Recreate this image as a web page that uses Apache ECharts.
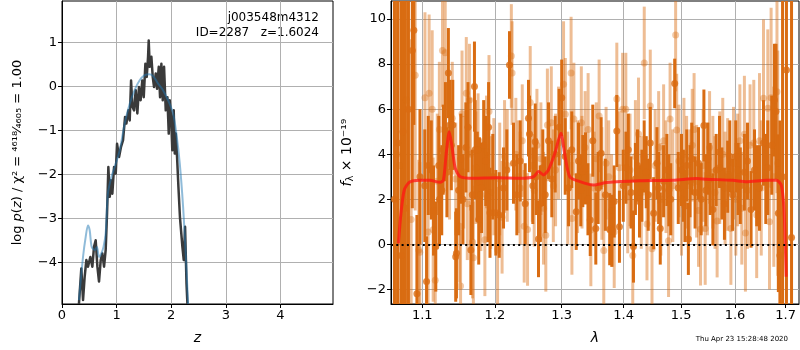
<!DOCTYPE html>
<html><head><meta charset="utf-8">
<script src="https://cdn.jsdelivr.net/npm/echarts@6/dist/echarts.min.js"></script>
<style>html,body{margin:0;padding:0;background:#fff}#c{width:800px;height:350px}</style>
</head><body><div id="c"></div>
<script>
// ---- p(z) panel ----
const pzDarkZ = [0.31,0.354,0.385,0.415,0.446,0.476,0.519,0.556,0.586,0.617,0.648,0.678,0.709,0.739,0.77,0.8,0.825,0.849,0.874,0.898,0.922,0.953,0.984,1.008,1.045,1.081,1.118,1.155,1.179,1.216,1.24,1.265,1.289,1.32,1.35,1.38,1.41,1.44,1.47,1.497,1.527,1.552,1.576,1.588,1.607,1.637,1.662,1.686,1.717,1.741,1.772,1.796,1.82,1.845,1.869,1.9,1.93,1.955,1.973,1.998,2.02,2.046,2.065,2.083,2.107,2.132,2.16,2.205,2.23,2.254,2.28,2.297];
const pzDarkLog = [-4.95,-4.14,-4.86,-4.33,-3.95,-4.1,-3.88,-4.1,-3.65,-3.5,-4.1,-4.44,-3.95,-3.8,-4.1,-3.72,-2.89,-1.83,-2.51,-2.13,-2.44,-1.83,-1.98,-1.3,-1.6,-1.37,-1.22,-0.69,-0.84,-0.54,-0.77,0.14,-0.46,-0.54,-0.08,-0.61,-0.01,-0.31,0.14,-0.24,0.52,0.22,0.68,1.05,0.45,0.68,0.22,-0.01,0.3,-0.05,0.45,-0.24,0.52,-0.31,0.45,-0.54,-0.24,-1.07,-0.31,-0.69,-1.45,-0.54,-1.52,-1.07,-1.6,-2.28,-2.97,-3.65,-3.95,-3.19,-4.48,-4.95];
const pzSmoothZ = [0.31,0.385,0.434,0.476,0.507,0.544,0.6,0.64,0.678,0.72,0.76,0.8,0.84,0.904,0.965,1.057,1.148,1.24,1.33,1.42,1.515,1.594,1.668,1.76,1.85,1.943,2.034,2.095,2.157,2.218,2.266,2.309];
const pzSmoothLog = [-4.86,-3.88,-3.42,-3.16,-3.27,-3.65,-3.72,-3.65,-3.88,-3.8,-3.65,-3.34,-2.44,-2.06,-1.83,-1.45,-0.84,-0.39,-0.08,0.14,0.26,0.28,0.24,0.07,-0.08,-0.31,-0.61,-1.07,-1.75,-2.74,-3.8,-4.95];
const pzTicksX = [0,1,2,3,4];
const pzTicksY = [-4,-3,-2,-1,0,1];

// ---- spectrum panel (wavelength in microns, flux in 1e-19) ----
const darkWave = [1.064,1.068,1.0727,1.075,1.078,1.082,1.087,1.089,1.093,1.097,1.1034,1.1057,1.108,1.112,1.115,1.118,1.122,1.123,1.126,1.128,1.131,1.133,1.135,1.137,1.139,1.141,1.145,1.146,1.149,1.152,1.155,1.159,1.162,1.166,1.168,1.171,1.172,1.175,1.177,1.178,1.181,1.184,1.187,1.19,1.191,1.193,1.197,1.2014,1.2063,1.2125,1.2173,1.2212,1.2271,1.232,1.237,1.2444,1.2493,1.2508,1.2558,1.2594,1.2609,1.2644,1.267,1.2709,1.2746,1.2796,1.2847,1.2899,1.2961,1.3,1.3055,1.3107,1.3158,1.3228,1.3264,1.33,1.3333,1.3376,1.3415,1.3452,1.3493,1.3542,1.358,1.3629,1.3698,1.3769,1.3807,1.3844,1.3887,1.3931,1.3995,1.404,1.408,1.4125,1.4167,1.42,1.4236,1.427,1.4311,1.435,1.4385,1.442,1.4455,1.4514,1.4571,1.46,1.4629,1.4687,1.4745,1.478,1.4814,1.4884,1.4948,1.5006,1.504,1.5067,1.51,1.513,1.516,1.5191,1.5252,1.5315,1.5364,1.5414,1.545,1.5488,1.553,1.5581,1.5642,1.5705,1.575,1.5798,1.5859,1.59,1.5952,1.6014,1.606,1.6101,1.618,1.624,1.631,1.6377,1.642,1.6476,1.6555,1.66,1.664,1.6719,1.6773,1.6804,1.6852,1.6883,1.6937,1.7016,1.712];
const darkFlux = [2.0,4.5,-0.5,5.0,1.6,6.0,8.6,9.5,-2.2,3.0,2.6,-1.65,3.5,3.3,1.5,-0.1,3.5,2.0,2.4,4.2,5.0,3.2,7.6,5.3,4.4,5.3,-0.55,-0.4,2.4,3.8,2.0,4.3,5.2,-0.25,2.2,7.0,4.2,3.0,1.1,2.75,2.5,4.4,3.7,2.1,5.2,1.4,3.0,1.4,1.3,2.5,3.3,7.96,3.6,2.2,3.7,1.8,5.6,4.9,2.6,4.55,3.0,0.24,1.8,3.4,2.2,4.6,2.9,4.0,5.2,6.5,3.9,2.5,4.2,1.45,3.7,2.4,3.25,3.37,2.0,1.08,4.6,0.7,2.5,4.04,2.2,0.67,0.6,1.9,5.03,0.78,2.6,3.4,4.2,2.3,-0.1,2.9,3.5,1.9,2.6,3.9,3.2,2.2,4.5,1.38,3.6,2.5,0.7,2.8,3.3,2.4,2.0,7.14,2.5,3.3,2.6,1.7,3.5,0.24,2.8,3.8,2.3,3.6,2.0,5.27,2.4,3.8,2.9,1.55,3.3,4.1,2.7,1.8,3.0,3.9,2.2,3.9,2.9,2.6,3.2,3.7,1.55,3.3,2.6,2.5,4.5,2.9,3.4,4.4,6.4,5.9,1.38,-0.5,3.0,7.74,0.3];
const darkErr = [14,14,12,12,10,9,7,4.2,3.5,3.0,2.5,2.0,2.2,2.2,2.0,2.0,2.2,2.0,2.0,2.0,2.2,2.0,2.0,2.0,2.0,2.0,2.0,2.0,2.0,2.0,2.0,2.0,2.0,2.0,2.0,2.0,2.2,2.0,2.0,2.0,2.0,2.0,2.0,2.0,2.0,2.0,1.9,1.9,1.9,1.8,1.8,1.5,1.8,1.8,1.8,1.8,1.7,1.7,1.7,1.7,1.7,1.7,1.7,1.7,1.7,1.7,1.7,1.7,1.7,1.7,1.7,1.7,1.7,1.7,1.7,1.6,1.6,1.6,1.6,1.6,1.6,1.6,1.6,1.6,1.6,1.6,1.6,1.6,1.6,1.6,1.6,1.6,1.6,1.6,1.6,1.6,1.6,1.6,1.6,1.6,1.6,1.6,1.6,1.6,1.6,1.6,1.6,1.6,1.6,1.6,1.6,1.1,1.6,1.6,1.6,1.6,1.6,1.6,1.6,1.6,1.6,1.6,1.6,1.6,1.6,1.6,1.6,1.6,1.6,1.6,1.6,1.6,1.6,1.6,1.6,1.6,1.6,1.7,1.7,1.7,1.7,1.8,1.8,1.9,1.9,2.0,2.1,2.2,2.5,3.0,3.5,6,8,14,14,14];

const lightWave = [1.067,1.0704,1.0793,1.0855,1.0908,1.0955,1.0968,1.1036,1.1077,1.1091,1.1132,1.1145,1.1173,1.12,1.1228,1.127,1.1307,1.1366,1.1403,1.145,1.1504,1.1517,1.1537,1.156,1.1596,1.161,1.1641,1.1655,1.1683,1.1695,1.173,1.1761,1.18,1.1857,1.188,1.1916,1.194,1.1985,1.2039,1.207,1.2104,1.214,1.2179,1.2239,1.225,1.2305,1.234,1.2369,1.24,1.2429,1.2479,1.2519,1.255,1.2579,1.262,1.268,1.272,1.2755,1.2779,1.2839,1.287,1.2905,1.295,1.3029,1.3057,1.3094,1.3147,1.316,1.3191,1.325,1.3309,1.332,1.337,1.3418,1.3462,1.3515,1.355,1.3596,1.364,1.3672,1.371,1.3753,1.38,1.3844,1.3887,1.393,1.3984,1.4038,1.407,1.4108,1.4155,1.42,1.4253,1.43,1.4351,1.4398,1.4455,1.4485,1.454,1.4601,1.464,1.4688,1.473,1.4775,1.4802,1.485,1.4901,1.492,1.496,1.5006,1.505,1.5098,1.516,1.52,1.5234,1.528,1.5315,1.5352,1.54,1.5438,1.548,1.5519,1.558,1.562,1.566,1.571,1.5766,1.581,1.5859,1.592,1.597,1.6014,1.605,1.6093,1.613,1.618,1.62,1.624,1.629,1.6363,1.642,1.6476,1.651,1.6555,1.664,1.6674,1.6706,1.676,1.6824,1.684];
const lightFlux = [4.0,3.5,6.4,1.1,7.5,-0.25,-0.35,6.5,0.55,6.7,6.0,0.65,-1.6,2.8,5.1,8.6,8.5,3.6,5.6,2.9,0.8,-1.85,5.8,3.2,6.7,1.8,6.4,4.0,0.1,-0.6,3.4,4.2,2.2,0.2,4.1,5.9,2.3,3.0,-0.25,2.9,1.2,3.9,3.5,8.36,7.6,4.0,3.0,2.5,4.6,0.8,0.66,6.3,3.5,2.4,4.4,3.8,1.6,0.4,5.3,5.4,2.6,3.3,4.5,7.1,5.77,2.5,7.6,1.15,5.56,3.0,5.4,3.2,4.3,5.1,0.64,2.5,3.8,5.7,2.7,-0.28,3.6,3.0,1.5,0.56,6.45,3.4,6.0,6.0,2.1,3.3,-0.5,3.9,4.9,2.3,8.05,0.9,6.14,-0.2,3.5,4.3,2.0,4.6,3.0,0.16,5.56,2.6,9.29,5.07,3.7,2.0,4.0,3.2,2.6,4.4,5.1,2.8,1.5,0.67,3.5,0.7,2.9,4.3,3.2,2.3,1.03,3.4,4.0,2.5,3.1,0.7,3.6,2.0,3.3,4.6,1.6,4.88,0.5,2.4,4.4,4.5,1.3,4.6,2.5,6.48,6.04,1.0,6.5,3.0,6.77,3.6];
const lightErr = [14,12,9,8,6,4,4,3.8,3.5,3.5,3.5,3.2,3.0,3.0,3.0,2.5,2.5,2.5,2.5,2.5,2.5,2.5,2.8,2.5,2.5,2.5,2.5,2.5,2.5,2.5,2.5,2.5,2.5,2.5,2.5,2.5,2.5,2.6,2.8,2.5,2.5,2.5,2.5,2.3,2.3,2.5,2.5,2.5,2.5,2.5,2.5,2.5,2.5,2.5,2.5,2.5,2.5,2.5,2.5,2.5,2.5,2.5,2.5,2.8,2.5,2.5,2.5,2.5,2.5,2.5,2.5,2.5,2.5,2.5,2.5,2.5,2.5,2.5,2.5,2.5,2.5,2.5,2.5,2.5,2.5,2.5,2.5,2.5,2.5,2.5,2.5,2.5,2.5,2.5,2.5,2.5,2.5,2.5,2.5,2.5,2.5,2.5,2.5,2.5,2.5,2.5,2.5,2.5,2.5,2.5,2.5,2.5,2.5,2.5,2.5,2.5,2.5,2.5,2.5,2.5,2.5,2.5,2.5,2.5,2.5,2.5,2.5,2.5,2.5,2.5,2.5,2.5,2.5,2.5,2.5,2.6,2.6,2.6,2.7,2.8,2.8,3.0,3.0,3.5,3.5,3.0,4.0,4.0,4.5,5.0];

const modelWave = [1.0691,1.0723,1.0766,1.0832,1.0964,1.110,1.1238,1.1283,1.1321,1.1362,1.1399,1.1444,1.1513,1.1696,1.2019,1.2369,1.2569,1.2644,1.2719,1.2794,1.2894,1.2987,1.3045,1.3126,1.3288,1.3503,1.372,1.4276,1.4854,1.5278,1.5464,1.5957,1.622,1.6615,1.6812,1.6911,1.6963,1.699,1.701];
const modelFlux = [0.04,1.38,2.41,2.75,2.84,2.84,2.75,2.85,4.04,5.0,4.34,3.38,3.0,2.93,2.95,2.93,3.0,3.23,3.08,3.3,4.04,4.93,4.04,3.0,2.78,2.63,2.74,2.82,2.84,2.92,2.89,2.84,2.78,2.84,2.84,2.63,1.67,0.19,-1.44];

const specTicksX = [1.1,1.2,1.3,1.4,1.5,1.6,1.7];
const specTicksY = [-2,0,2,4,6,8,10];

const ORANGE = 'rgb(217,108,18)';
const ORANGE_L = 'rgba(217,108,18,0.45)';
const FONT = 'DejaVu Sans';

function errData(w, f, e) { return w.map((x, i) => [Math.log(x), f[i] - e[i], f[i] + e[i]]); }
function ptData(w, f) { return w.map((x, i) => [Math.log(x), f[i]]); }
function errRender(color) {
  return function (params, api) {
    const x = api.value(0);
    const p1 = api.coord([x, api.value(2)]);
    const p2 = api.coord([x, api.value(1)]);
    return { type: 'line', shape: { x1: p1[0], y1: p1[1], x2: p2[0], y2: p2[1] },
      style: { stroke: color, lineWidth: 3 } };
  };
}
const minus = v => String(v).replace('-', '\u2212');

const gridLine = { show: true, lineStyle: { color: '#b0b0b0', width: 1 } };
const axisLineK = { show: true, onZero: false, lineStyle: { color: '#000', width: 1 } };
const tickK = { show: true, inside: false, length: 4, lineStyle: { color: '#000' } };
const labelK = { color: '#000', fontSize: 13, fontFamily: FONT, margin: 5 };

const chart = echarts.init(document.getElementById('c'), null, { renderer: 'canvas' });
chart.setOption({
  animation: false,
  backgroundColor: '#fff',
  grid: [
    { left: 62, top: 1, width: 271, height: 303, show: true, borderColor: '#000', borderWidth: 1, backgroundColor: 'transparent' },
    { left: 391, top: 1, width: 408, height: 303, show: true, borderColor: '#000', borderWidth: 1, backgroundColor: 'transparent' }
  ],
  xAxis: [
    { gridIndex: 0, type: 'value', min: 0, max: 4.963,
      axisLine: axisLineK, axisTick: Object.assign({}, tickK, { customValues: pzTicksX }),
      axisLabel: Object.assign({}, labelK, { customValues: pzTicksX }),
      splitLine: gridLine,
      name: 'z', nameLocation: 'middle', nameGap: 27,
      nameTextStyle: { fontSize: 14, fontStyle: 'italic', fontFamily: FONT, color: '#000' } },
    { gridIndex: 1, type: 'value', min: 0.0579, max: 0.5466,
      axisLine: axisLineK,
      axisTick: Object.assign({}, tickK, { customValues: specTicksX.map(Math.log) }),
      axisLabel: Object.assign({}, labelK, { customValues: specTicksX.map(Math.log),
        formatter: v => Math.exp(v).toFixed(1) }),
      splitLine: gridLine,
      name: 'λ', nameLocation: 'middle', nameGap: 27,
      nameTextStyle: { fontSize: 14, fontStyle: 'italic', fontFamily: FONT, color: '#000' } }
  ],
  yAxis: [
    { gridIndex: 0, type: 'value', min: -4.95, max: 1.95,
      axisLine: axisLineK, axisTick: Object.assign({}, tickK, { customValues: pzTicksY }),
      axisLabel: Object.assign({}, labelK, { customValues: pzTicksY, formatter: minus }),
      splitLine: gridLine,
      name: 'log {i|p}({i|z}) / χ² = ⁴⁶¹⁸⁄₄₆₀₅ = 1.00', nameLocation: 'middle', nameGap: 38,
      nameTextStyle: { fontSize: 13, fontFamily: FONT, color: '#000',
        rich: { i: { fontSize: 13, fontStyle: 'italic', fontFamily: FONT, color: '#000' } } } },
    { gridIndex: 1, type: 'value', min: -2.65, max: 10.8,
      axisLine: axisLineK, axisTick: Object.assign({}, tickK, { customValues: specTicksY }),
      axisLabel: Object.assign({}, labelK, { customValues: specTicksY, formatter: minus }),
      splitLine: gridLine,
      name: '{i|f}{s|λ} × 10⁻¹⁹', nameLocation: 'middle', nameGap: 36,
      nameTextStyle: { fontSize: 14, fontFamily: FONT, color: '#000',
        rich: { i: { fontSize: 14, fontStyle: 'italic', fontFamily: FONT }, s: { fontSize: 10, fontFamily: FONT, padding: [6, 0, 0, 0] } } } }
  ],
  series: [
    { type: 'line', xAxisIndex: 0, yAxisIndex: 0, data: pzDarkZ.map((z, i) => [z, pzDarkLog[i]]),
      showSymbol: false, clip: true, lineStyle: { color: '#3a3a3a', width: 2.5, join: 'round' } },
    { type: 'line', xAxisIndex: 0, yAxisIndex: 0, data: pzSmoothZ.map((z, i) => [z, pzSmoothLog[i]]),
      showSymbol: false, smooth: 0.3, clip: true, lineStyle: { color: 'rgba(31,119,180,0.5)', width: 2 } },
    { type: 'custom', xAxisIndex: 1, yAxisIndex: 1, clip: true, renderItem: errRender(ORANGE_L),
      data: errData(lightWave, lightFlux, lightErr), encode: { x: 0, y: [1, 2] }, silent: true },
    { type: 'scatter', xAxisIndex: 1, yAxisIndex: 1, clip: true, symbolSize: 7,
      itemStyle: { color: ORANGE_L }, data: ptData(lightWave, lightFlux) },
    { type: 'custom', xAxisIndex: 1, yAxisIndex: 1, clip: true, renderItem: errRender(ORANGE),
      data: errData(darkWave, darkFlux, darkErr), encode: { x: 0, y: [1, 2] }, silent: true },
    { type: 'scatter', xAxisIndex: 1, yAxisIndex: 1, clip: true, symbolSize: 7,
      itemStyle: { color: ORANGE }, data: ptData(darkWave, darkFlux) },
    { type: 'line', xAxisIndex: 1, yAxisIndex: 1, clip: true, data: ptData(modelWave, modelFlux),
      showSymbol: false, smooth: 0.25, lineStyle: { color: 'rgba(255,20,20,0.75)', width: 3 },
      markLine: { silent: true, symbol: 'none', label: { show: false },
        lineStyle: { color: '#000', type: [2, 3.3], width: 2 }, data: [{ yAxis: 0 }] } }
  ],
  graphic: [
    { type: 'text', right: 800 - 319, top: 12, style: { text: 'j003548m4312', fontSize: 12, fontFamily: FONT, fill: '#000', align: 'right' } },
    { type: 'text', right: 800 - 319, top: 27, style: { text: 'ID=2287   z=1.6024', fontSize: 12, fontFamily: FONT, fill: '#000', align: 'right' } },
    { type: 'text', right: 12, top: 336, style: { text: 'Thu Apr 23 15:28:48 2020', fontSize: 7, fontFamily: FONT, fill: '#000' } }
  ]
});
</script></body></html>
